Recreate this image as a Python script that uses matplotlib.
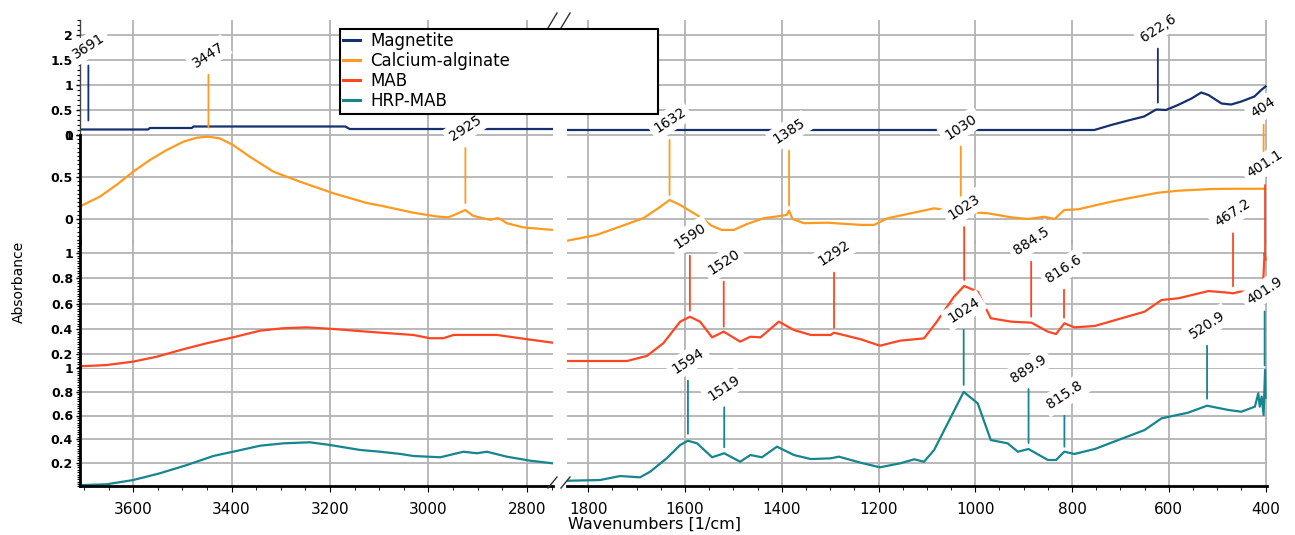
import numpy as np
import matplotlib.pyplot as plt
from matplotlib.lines import Line2D
from matplotlib.ticker import MultipleLocator

W, H, DPI = 1295, 535, 100

series_names = ["Magnetite", "Calcium-alginate", "MAB", "HRP-MAB"]
series_colors = ["#15306e", "#ff9a1e", "#ff4622", "#15858f"]

# spectra (wavenumber in 1/cm, absorbance)
mag_wn = [3708, 3570, 3566, 3481, 3477, 3169, 3160, 2748,
          1845, 1400, 1000, 754, 719, 684, 651, 626, 606, 581, 553, 533,
          518, 491, 471, 450, 423, 409, 400]
mag_abs = [0.11, 0.11, 0.14, 0.14, 0.17, 0.17, 0.12, 0.12,
           0.10, 0.10, 0.10, 0.10, 0.20, 0.29, 0.37, 0.51, 0.50, 0.60, 0.73, 0.85,
           0.80, 0.63, 0.61, 0.67, 0.77, 0.90, 0.97]

ca_wn = [3708, 3668, 3634, 3600, 3566, 3532, 3498, 3471, 3447, 3424, 3397, 3363,
         3315, 3261, 3193, 3125, 3098, 3058, 3031, 2983, 2960, 2949, 2925, 2910,
         2902, 2875, 2860, 2854, 2841, 2807, 2748,
         1845, 1783, 1734, 1686, 1651, 1632, 1610, 1565, 1545, 1524, 1499, 1472,
         1437, 1403, 1390, 1385, 1378, 1354, 1306, 1237, 1209, 1182, 1133, 1085,
         1071, 1030, 974, 926, 891, 857, 836, 816, 788, 719, 684, 622, 580, 512,
         463, 400]
ca_abs = [0.15, 0.265, 0.405, 0.563, 0.702, 0.821, 0.92, 0.968, 0.98, 0.96, 0.881, 0.742,
          0.563, 0.444, 0.306, 0.19, 0.16, 0.11, 0.075, 0.03, 0.02, 0.045, 0.107, 0.04,
          0.027, -0.01, 0.01, 0.0, -0.05, -0.10, -0.13,
          -0.26, -0.19, -0.09, 0.01, 0.146, 0.226, 0.167, 0.01, -0.08, -0.13, -0.13, -0.06,
          0.01, 0.036, 0.048, 0.10, 0.0, -0.05, -0.044, -0.07, -0.07, 0.008, 0.068, 0.127,
          0.115, 0.09, 0.068, 0.02, 0.0, 0.027, 0.0, 0.107, 0.115, 0.206, 0.246, 0.313, 0.337, 0.357,
          0.36, 0.36]

mab_wn = [3708, 3654, 3600, 3552, 3498, 3451, 3397, 3342, 3295, 3247, 3193, 3125,
          3057, 3031, 2997, 2970, 2949, 2861, 2814, 2748,
          1845, 1720, 1679, 1645, 1610, 1590, 1569, 1544, 1520, 1486, 1465, 1444,
          1406, 1375, 1340, 1299, 1292, 1237, 1197, 1155, 1106, 1082, 1044, 1023,
          995, 968, 926, 884, 850, 833, 816, 795, 753, 650, 615, 580, 518, 477,
          467, 453, 412, 405, 402, 400]
mab_abs = [0.105, 0.115, 0.142, 0.181, 0.24, 0.287, 0.334, 0.387, 0.406, 0.413, 0.40, 0.379,
           0.36, 0.353, 0.327, 0.327, 0.353, 0.353, 0.327, 0.292,
           0.147, 0.147, 0.187, 0.287, 0.458, 0.497, 0.458, 0.334, 0.379, 0.30, 0.339, 0.334,
           0.458, 0.392, 0.353, 0.353, 0.371, 0.319, 0.268, 0.308, 0.326, 0.445, 0.655, 0.74,
           0.695, 0.485, 0.458, 0.45, 0.379, 0.36, 0.445, 0.413, 0.424, 0.537, 0.629, 0.643, 0.70, 0.687,
           0.682, 0.695, 0.70, 0.76, 1.0, 0.95]

hrp_wn = [3708, 3654, 3600, 3546, 3491, 3437, 3397, 3342, 3295, 3241, 3200, 3139,
          3098, 3057, 3031, 2976, 2929, 2902, 2881, 2841, 2793, 2748,
          1845, 1776, 1734, 1693, 1672, 1638, 1610, 1594, 1575, 1544, 1519, 1486,
          1465, 1441, 1410, 1375, 1340, 1299, 1282, 1237, 1197, 1155, 1126, 1106,
          1085, 1057, 1024, 995, 968, 933, 912, 890, 850, 833, 816, 795, 753, 650,
          615, 560, 521, 477, 450, 422, 415, 412, 408, 404, 401, 400]
hrp_abs = [0.01, 0.017, 0.053, 0.11, 0.18, 0.257, 0.293, 0.344, 0.364, 0.373, 0.35, 0.308,
           0.293, 0.274, 0.257, 0.246, 0.293, 0.28, 0.293, 0.251, 0.217, 0.195,
           0.047, 0.053, 0.087, 0.076, 0.124, 0.237, 0.35, 0.386, 0.364, 0.246, 0.28, 0.208,
           0.265, 0.246, 0.336, 0.265, 0.231, 0.237, 0.251, 0.20, 0.161, 0.195, 0.229, 0.208,
           0.308, 0.534, 0.80, 0.703, 0.392, 0.364, 0.293, 0.316, 0.223, 0.223, 0.293, 0.274, 0.316, 0.477,
           0.576, 0.624, 0.683, 0.647, 0.632, 0.675, 0.788, 0.675, 0.76, 0.604, 0.986, 0.75]

# labelled peaks per series
mag_peaks = [3691, 622.6]
mag_peak_text = ["3691", "622,6"]
ca_peaks = [3447, 2925, 1632, 1385, 1030, 404]
ca_peak_text = ["3447", "2925", "1632", "1385", "1030", "404"]
mab_peaks = [1590, 1520, 1292, 1023, 884.5, 816.6, 467.2, 401.1]
mab_peak_text = ["1590", "1520", "1292", "1023", "884.5", "816.6", "467.2", "401.1"]
hrp_peaks = [1594, 1519, 1024, 889.9, 815.8, 520.9, 401.9]
hrp_peak_text = ["1594", "1519", "1024", "889.9", "815.8", "520.9", "401.9"]

# stem styling (gap above curve, stem length) in pixels
mag_stems = [(9, 55), (7, 54)]
ca_stems = [(9, 53), (7, 55), (5, 55), (5, 55), (15, 50), (27, 37)]
mab_stems = [(6, 55), (5, 45), (5, 55), (6, 53), (6, 55), (6, 28), (7, 53), (3, 68)]
hrp_stems = [(7, 53), (6, 40), (7, 55), (6, 54), (5, 31), (7, 53), (18, 54)]

# layout in reference pixels
COLS = [((80, 553), (3708, 2747)), ((567, 1267), (1844, 397))]
# zero px, px per unit, top px, bottom px
PANELS = [(135, 50, 20, 135), (219, 84, 135, 244), (379.6, 126.5, 240, 368), (486.3, 118, 368, 486.3)]
YTICKS = [[0, 0.5, 1, 1.5, 2], [0, 0.5, 1], [0.2, 0.4, 0.6, 0.8, 1], [0.2, 0.4, 0.6, 0.8, 1]]
YTICKLABELS = [["0", "0.5", "1", "1.5", "2"], ["0", "0.5", "1"],
               ["0.2", "0.4", "0.6", "0.8", "1"], ["0.2", "0.4", "0.6", "0.8", "1"]]
YMINOR = [0.1, 0.05, 0.02, 0.02]
XTICKS = [[3600, 3400, 3200, 3000, 2800], [1800, 1600, 1400, 1200, 1000, 800, 600, 400]]

GRID = "#b3b3b3"

fig = plt.figure(figsize=(W / DPI, H / DPI), dpi=DPI)

series = [(mag_wn, mag_abs, mag_peaks, mag_peak_text, mag_stems),
          (ca_wn, ca_abs, ca_peaks, ca_peak_text, ca_stems),
          (mab_wn, mab_abs, mab_peaks, mab_peak_text, mab_stems),
          (hrp_wn, hrp_abs, hrp_peaks, hrp_peak_text, hrp_stems)]

handles = []
for i, (zero, ppu, top, bot) in enumerate(PANELS):
    wn, ab, peaks, ptext, stems = series[i]
    wn = np.array(wn, dtype=float)
    ab = np.array(ab, dtype=float)
    color = series_colors[i]
    axes = []
    for j, ((x0, x1), xlim) in enumerate(COLS):
        ax = fig.add_axes([x0 / W, 1 - bot / H, (x1 - x0) / W, (bot - top) / H])
        ax.set_facecolor("none")
        ax.set_xlim(*xlim)
        ax.set_ylim((zero - bot) / ppu, (zero - top) / ppu)
        for s in ax.spines.values():
            s.set_visible(False)
        ax.set_xticks(XTICKS[j])
        ax.set_yticks(YTICKS[i])
        ax.grid(True, color=GRID, lw=1.3)
        if j == 0:
            ax.set_yticklabels(YTICKLABELS[i], fontsize=9, fontweight="bold")
            ax.yaxis.set_minor_locator(MultipleLocator(YMINOR[i]))
            ax.tick_params(axis="y", which="major", length=3, width=1, pad=2)
            ax.tick_params(axis="y", which="minor", length=2, width=0.8)
            ax.spines["left"].set_visible(True)
            if i == 0:
                ax.spines["left"].set_linewidth(1.0)
                ax.spines["left"].set_color("#444444")
            else:
                ax.spines["left"].set_linewidth(2.0)
                ax.spines["left"].set_color("black")
        else:
            ax.tick_params(axis="y", which="both", left=False, labelleft=False)
        if i == 3:
            ax.spines["bottom"].set_visible(True)
            ax.spines["bottom"].set_linewidth(2.0)
            ax.xaxis.set_minor_locator(MultipleLocator(50))
            ax.tick_params(axis="x", which="major", length=4, labelsize=11, pad=7)
            ax.tick_params(axis="x", which="minor", length=3)
        else:
            ax.tick_params(axis="x", which="both", bottom=False, labelbottom=False)
        mask = wn > 2000 if j == 0 else wn < 2000
        line, = ax.plot(wn[mask], ab[mask], color=color, lw=1.6, zorder=2)
        axes.append(ax)
    handles.append(line)

    # peak stems and labels
    for pk, txt, (gap, length) in zip(peaks, ptext, stems):
        ax = axes[0] if pk > 2000 else axes[1]
        y = np.interp(pk, wn[::-1], ab[::-1])
        ax.annotate("", xy=(pk, y), xytext=(0, gap + length), textcoords="offset pixels",
                    arrowprops=dict(arrowstyle="-", color=color, lw=1.3, shrinkA=0,
                                    shrinkB=gap * 72 / DPI),
                    annotation_clip=False, zorder=4)
        ax.annotate(txt, xy=(pk, y), xytext=(0, gap + length + 4), textcoords="offset pixels",
                    ha="center", va="bottom", rotation=33, fontsize=10, color="black",
                    bbox=dict(fc="white", ec="none", pad=3),
                    annotation_clip=False, zorder=6)

leg = fig.legend(handles, series_names, loc="upper left",
                 bbox_to_anchor=(340 / W, 1 - 117 / H, 318 / W, 88 / H), mode="expand",
                 borderaxespad=0, fontsize=12, handlelength=1.0, handletextpad=0.6,
                 labelspacing=0.12, borderpad=0.2, fancybox=False, framealpha=1,
                 edgecolor="black")
leg.get_frame().set_linewidth(1.5)
for lh in leg.get_lines():
    lh.set_linewidth(2.2)

# axis-break marks
for yb, yt in [(488, 477), (28, 13)]:
    for xa in (548, 561):
        fig.add_artist(Line2D([xa / W, (xa + 9) / W], [1 - yb / H, 1 - yt / H],
                              color="#333333", lw=1))

fig.text(655 / W, 1 - 524 / H, "Wavenumbers [1/cm]", ha="center", va="center", fontsize=11.5)
fig.text(19 / W, 1 - 282 / H, "Absorbance", ha="center", va="center", rotation=90, fontsize=10)

fig.savefig("out.png", dpi=DPI)
